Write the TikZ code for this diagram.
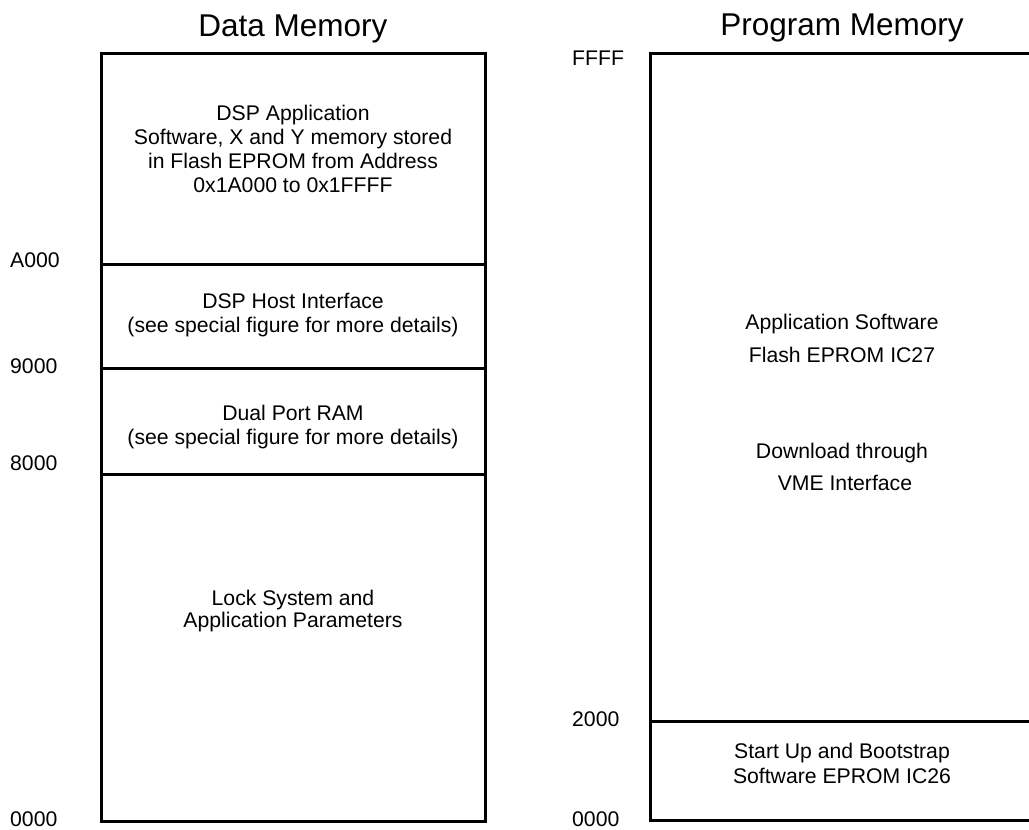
\documentclass[tikz,border=0pt]{standalone}
\usepackage{fontspec}
\setmainfont{Liberation Sans}
\begin{document}
\begin{tikzpicture}[x=1pt,y=-1pt,
  body/.style={font=\fontsize{21.2}{24}\selectfont, align=center, inner sep=0pt, anchor=base},
  title/.style={font=\fontsize{31.5}{36}\selectfont, inner sep=0pt, anchor=base},
  addr/.style={font=\fontsize{21.2}{24}\selectfont, inner sep=0pt, anchor=base west},
  memline/.style={line width=3pt, line cap=rect}]
\useasboundingbox (0,0) rectangle (1029,830);
% Data memory
\node[title] (dmtitle) at (293,36) {Data Memory};
\draw[memline] (101,53) rectangle (485,821);
\draw[memline] (101,264) -- (485,264);
\draw[memline] (101,368) -- (485,368);
\draw[memline] (101,474) -- (485,474);
\node[body] (dsp) at (293,192) {DSP Application\\Software, X and Y memory stored\\in Flash EPROM from Address\\0x1A000 to 0x1FFFF};
\node[body] (host) at (293,332) {DSP Host Interface\\(see special figure for more details)};
\node[body, font=\fontsize{21.2}{23.5}\selectfont] (dpr) at (293,444) {Dual Port RAM\\(see special figure for more details)};
\node[body, font=\fontsize{21.2}{22}\selectfont] (lock) at (293,627) {Lock System and\\Application Parameters};
\node[addr] (aA) at (10,267) {A000};
\node[addr] (a9) at (10,373) {9000};
\node[addr] (a8) at (10,470) {8000};
\node[addr] (a0) at (10,826) {0000};
% Program memory
\node[title] (pmtitle) at (842,35) {Program Memory};
\draw[memline] (1040,53) -- (650,53) -- (650,820) -- (1040,820);
\draw[memline] (650,721) -- (1040,721);
\node[body, font=\fontsize{21.2}{33}\selectfont] (appsw) at (842,362) {Application Software\\Flash EPROM IC27};
\node[body, font=\fontsize{21.2}{32}\selectfont] (dl) at (842,490) {Download through\\\ VME Interface};
\node[body, font=\fontsize{21.2}{25}\selectfont] (boot) at (842,783) {Start Up and Bootstrap\\Software EPROM IC26};
\node[addr] (pF) at (572,65) {FFFF};
\node[addr] (p2) at (572,726) {2000};
\node[addr] (p0) at (572,826) {0000};
\end{tikzpicture}
\end{document}
